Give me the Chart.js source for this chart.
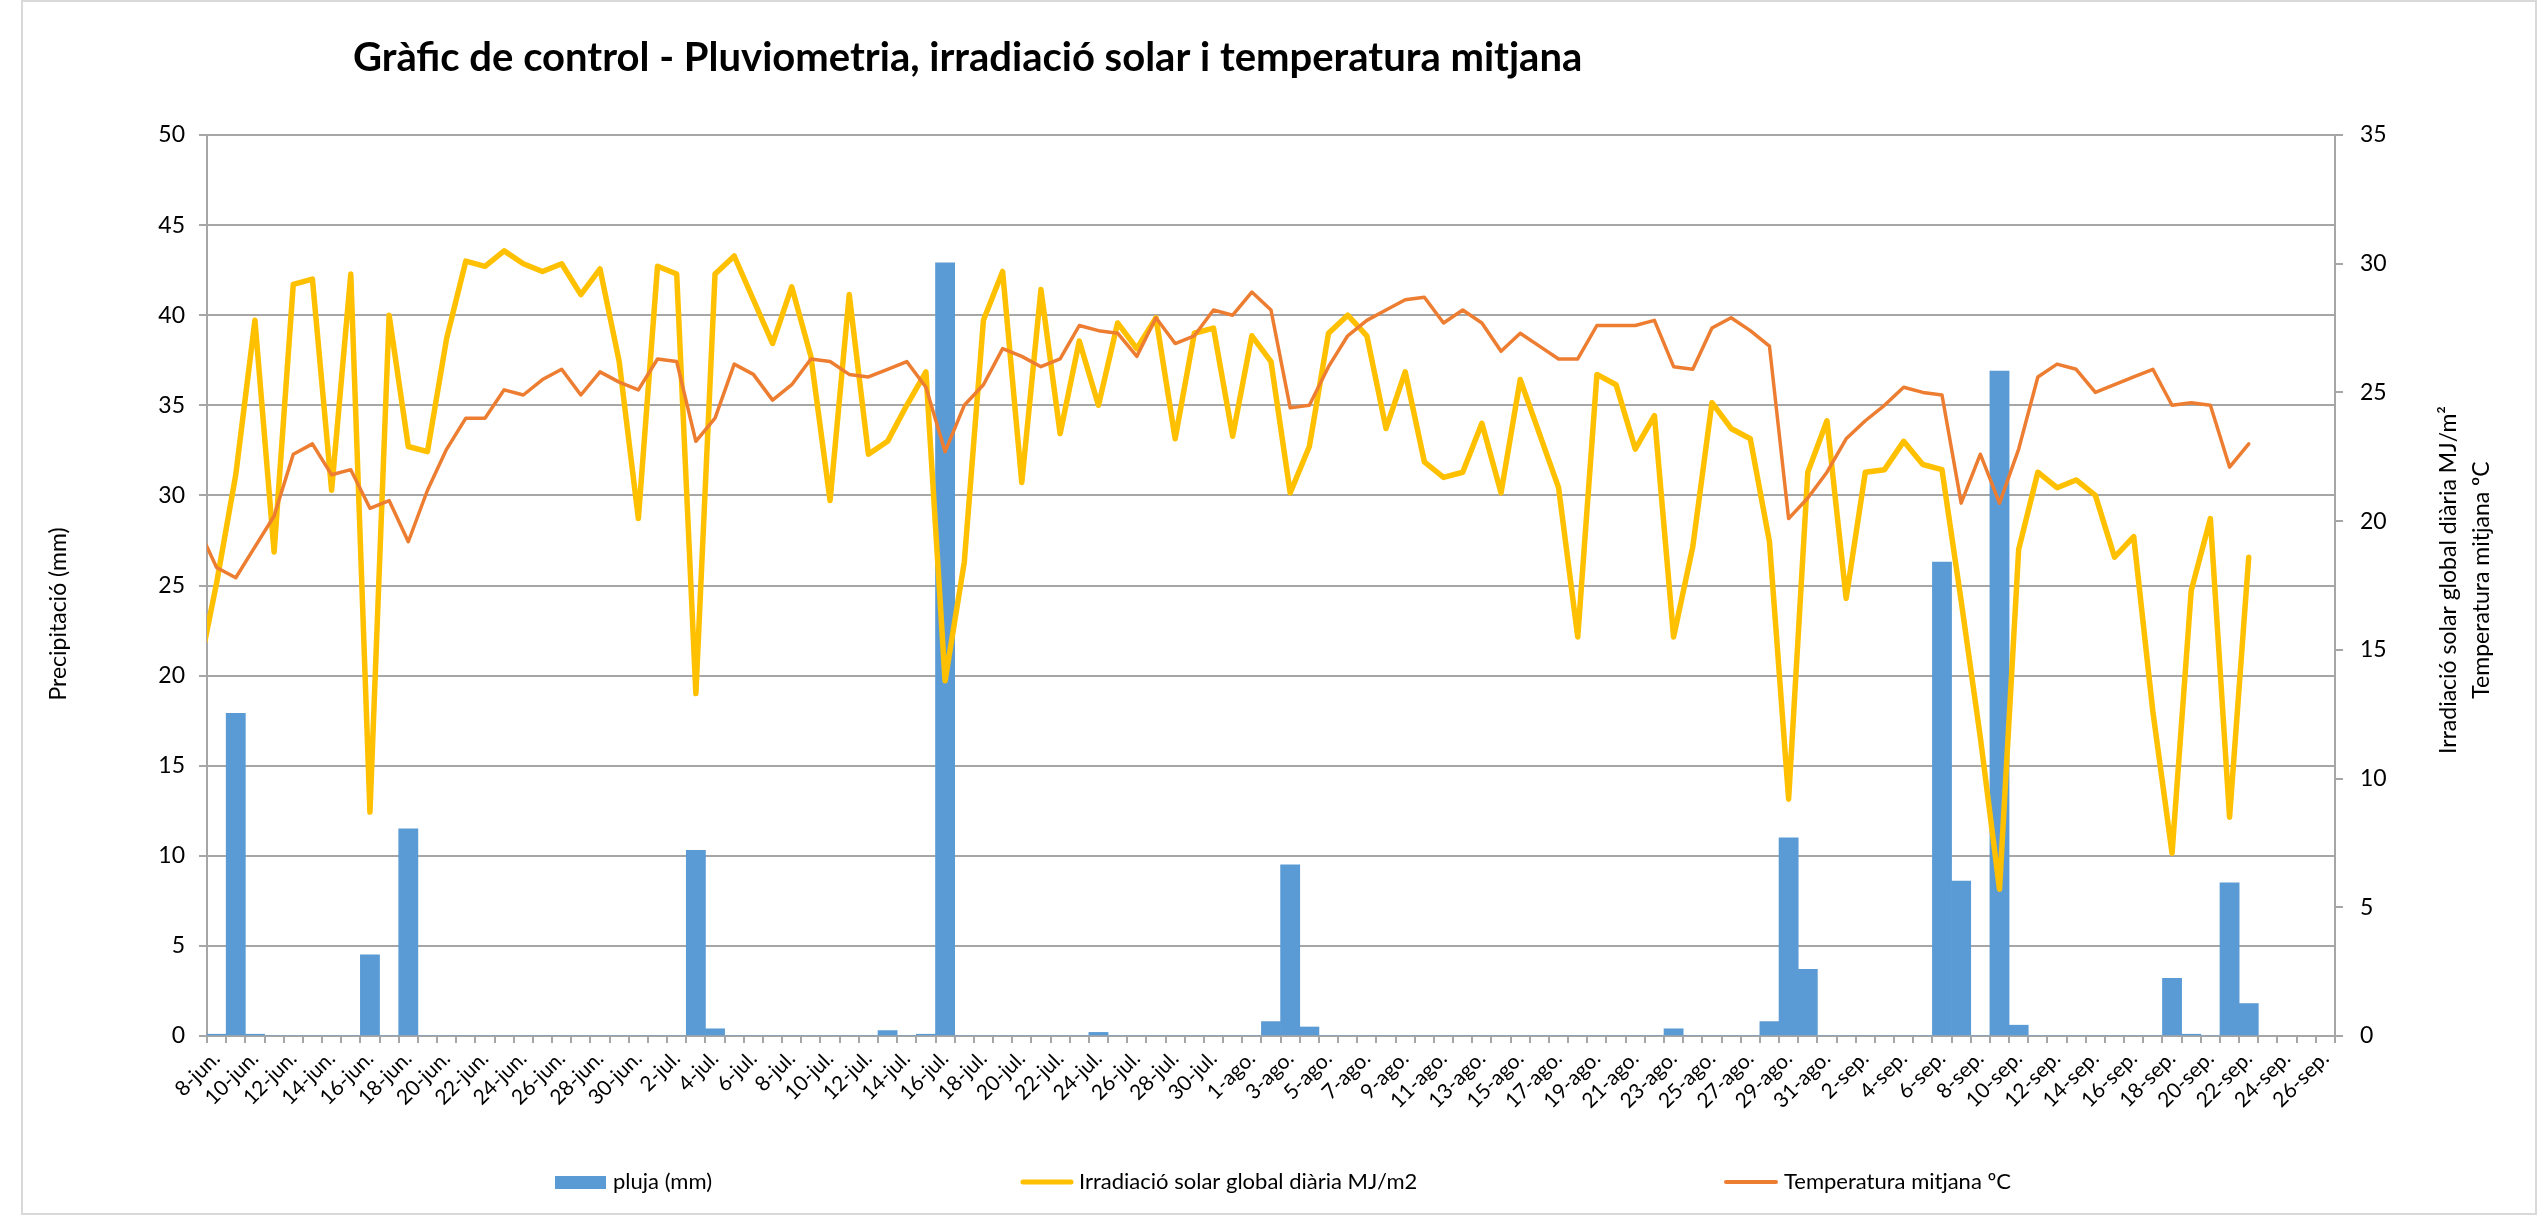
<!DOCTYPE html>
<html>
<head>
<meta charset="utf-8">
<title>Gràfic de control</title>
<script src="https://cdn.jsdelivr.net/npm/chart.js@4.4.1/dist/chart.umd.min.js"></script>
<style>
  html, body { margin: 0; padding: 0; background: #fff; }
  canvas { display: block; }
</style>
</head>
<body>
<canvas id="grafic" width="2538" height="1222"></canvas>
<script>
/* dies: 7-jun (nomes per la linia tallada a l'esquerra) fins 26-sep */
const mesos = [['jun', 7, 30], ['jul', 1, 31], ['ago', 1, 31], ['sep', 1, 26]];
const dies = [];
mesos.forEach(([m, d0, d1]) => { for (let d = d0; d <= d1; d++) dies.push(d + '-' + m + '.'); });

/* pluja (mm), eix esquerre */
const pluja = [null,
  // juny 8..30
  0.1, 17.9, 0.1, 0, 0, 0, 0, 0, 4.5, 0, 11.5, 0, 0, 0, 0, 0, 0, 0, 0, 0, 0, 0, 0,
  // juliol 1..31
  0, 0, 10.3, 0.4, 0, 0, 0, 0, 0, 0, 0, 0, 0.3, 0, 0.1, 42.9,
  0, 0, 0, 0, 0, 0, 0, 0.2, 0, 0, 0, 0, 0, 0, 0,
  // agost 1..31
  0, 0.8, 9.5, 0.5, 0, 0, 0, 0, 0, 0, 0, 0, 0, 0, 0, 0, 0, 0, 0, 0, 0, 0,
  0.4, 0, 0, 0, 0, 0.8, 11.0, 3.7, 0,
  // setembre 1..26
  0, 0, 0, 0, 0, 26.3, 8.6, 0, 36.9, 0.6, 0, 0, 0, 0, 0, 0, 0,
  3.2, 0.1, 0, 8.5, 1.8, null, null, null, null];

/* irradiacio solar global diaria MJ/m2, eix dret */
const irradiacio = [13.9,
  17.6, 21.8, 27.8, 18.8, 29.2, 29.4, 21.2, 29.6, 8.7, 28.0, 22.9, 22.7, 27.1, 30.1, 29.9,
  30.5, 30.0, 29.7, 30.0, 28.8, 29.8, 26.2, 20.1, 29.9, 29.6, 13.3, 29.6, 30.3, 28.6, 26.9,
  29.1, 26.4, 20.8, 28.8, 22.6, 23.1, 24.5, 25.8, 13.8, 18.4, 27.8, 29.7, 21.5, 29.0, 23.4,
  27.0, 24.5, 27.7, 26.7, 27.9, 23.2, 27.3, 27.5, 23.3, 27.2, 26.2, 21.1, 22.9, 27.3, 28.0,
  27.2, 23.6, 25.8, 22.3, 21.7, 21.9, 23.8, 21.1, 25.5, 23.4, 21.3, 15.5, 25.7, 25.3, 22.8,
  24.1, 15.5, 19.0, 24.6, 23.6, 23.2, 19.2, 9.2, 21.9, 23.9, 17.0, 21.9, 22.0, 23.1, 22.2,
  22.0, 16.9, 11.6, 5.7, 18.9, 21.9, 21.3, 21.6, 21.0, 18.6, 19.4, 12.6, 7.1, 17.3, 20.1,
  8.5, 18.6, null, null, null, null];

/* temperatura mitjana ºC, eix dret */
const temperatura = [19.8,
  18.2, 17.8, 19.0, 20.2, 22.6, 23.0, 21.8, 22.0, 20.5, 20.8, 19.2, 21.2, 22.8, 24.0, 24.0,
  25.1, 24.9, 25.5, 25.9, 24.9, 25.8, 25.4, 25.1, 26.3, 26.2, 23.1, 24.0, 26.1, 25.7, 24.7,
  25.3, 26.3, 26.2, 25.7, 25.6, 25.9, 26.2, 25.2, 22.7, 24.5, 25.3, 26.7, 26.4, 26.0, 26.3,
  27.6, 27.4, 27.3, 26.4, 27.9, 26.9, 27.2, 28.2, 28.0, 28.9, 28.2, 24.4, 24.5, 26.0, 27.2,
  27.8, 28.2, 28.6, 28.7, 27.7, 28.2, 27.7, 26.6, 27.3, 26.8, 26.3, 26.3, 27.6, 27.6, 27.6,
  27.8, 26.0, 25.9, 27.5, 27.9, 27.4, 26.8, 20.1, 20.9, 21.9, 23.2, 23.9, 24.5, 25.2, 25.0,
  24.9, 20.7, 22.6, 20.7, 22.8, 25.6, 26.1, 25.9, 25.0, 25.3, 25.6, 25.9, 24.5, 24.6, 24.5,
  22.1, 23.0, null, null, null, null];

const titol = 'Gràfic de control - Pluviometria, irradiació solar i temperatura mitjana';
const titolEsq = 'Precipitació (mm)';
const titolDret = ['Irradiació solar global diària MJ/m²', 'Temperatura mitjana ºC'];
const llegenda = ['pluja (mm)', 'Irradiació solar global diària MJ/m2', 'Temperatura mitjana ºC'];

const lletra = 'Lato, "Open Sans", sans-serif';
const gris = '#a6a6a6';

/* titols, llegenda i vora dibuixats a ma */
const textos = {
  id: 'textos',
  afterDraw(chart) {
    const ctx = chart.ctx;
    ctx.save();
    ctx.strokeStyle = '#d9d9d9';
    ctx.lineWidth = 2;
    ctx.strokeRect(22, 1, 2514, 1213);

    ctx.fillStyle = '#000';
    ctx.textAlign = 'left';
    ctx.textBaseline = 'alphabetic';
    ctx.font = 'bold 34px ' + lletra;
    const mida = 34 * 1229 / ctx.measureText(titol).width;
    ctx.font = 'bold ' + mida.toFixed(1) + 'px ' + lletra;
    ctx.fillText(titol, 353, 71);

    ctx.font = '23px ' + lletra;
    ctx.textAlign = 'center';
    ctx.textBaseline = 'middle';
    ctx.save();
    ctx.translate(59, 614);
    ctx.rotate(-Math.PI / 2);
    ctx.fillText(titolEsq, 0, 0);
    ctx.restore();
    [2449, 2482].forEach((x, i) => {
      ctx.save();
      ctx.translate(x, 580);
      ctx.rotate(-Math.PI / 2);
      ctx.fillText(titolDret[i], 0, 0);
      ctx.restore();
    });

    // llegenda
    ctx.font = '22px ' + lletra;
    ctx.textAlign = 'left';
    ctx.fillStyle = '#5b9bd5';
    ctx.fillRect(555, 1176, 51, 13);
    ctx.lineCap = 'round';
    ctx.strokeStyle = '#ffc000';
    ctx.lineWidth = 5;
    ctx.beginPath(); ctx.moveTo(1023, 1182); ctx.lineTo(1071, 1182); ctx.stroke();
    ctx.strokeStyle = '#ed7d31';
    ctx.lineWidth = 4;
    ctx.beginPath(); ctx.moveTo(1726, 1182); ctx.lineTo(1776, 1182); ctx.stroke();
    ctx.fillStyle = '#000';
    ctx.fillText(llegenda[0], 613, 1182);
    ctx.fillText(llegenda[1], 1079, 1182);
    ctx.fillText(llegenda[2], 1784, 1182);
    ctx.restore();
  }
};

new Chart(document.getElementById('grafic'), {
  type: 'bar',
  data: {
    labels: dies,
    datasets: [
      {
        type: 'line', label: llegenda[2], data: temperatura, yAxisID: 'y1',
        borderColor: '#ed7d31', borderWidth: 3.5, pointRadius: 0, tension: 0,
        borderJoinStyle: 'round', borderCapStyle: 'round', order: 0
      },
      {
        type: 'line', label: llegenda[1], data: irradiacio, yAxisID: 'y1',
        borderColor: '#ffc000', borderWidth: 5.5, pointRadius: 0, tension: 0,
        borderJoinStyle: 'round', borderCapStyle: 'round', order: 1
      },
      {
        type: 'bar', label: llegenda[0], data: pluja, yAxisID: 'y',
        backgroundColor: '#5b9bd5', barPercentage: 1, categoryPercentage: 1, order: 2
      }
    ]
  },
  options: {
    responsive: false,
    animation: false,
    devicePixelRatio: 1,
    layout: { padding: { top: 135, left: 0, right: 0, bottom: 0 } },
    plugins: { legend: { display: false }, tooltip: { enabled: false }, title: { display: false } },
    scales: {
      x: {
        type: 'category',
        min: '8-jun.',
        offset: true,
        grid: { offset: true, drawOnChartArea: false, drawTicks: true, tickLength: 7, color: gris, lineWidth: 2 },
        border: { display: true, color: gris, width: 2 },
        ticks: {
          autoSkip: false, minRotation: 45, maxRotation: 45, padding: 3, color: '#000',
          font: { family: lletra, size: 21 },
          callback(v) { return (v - 1) % 2 === 0 ? this.getLabelForValue(v) : ''; }
        },
        afterFit(s) { s.height = 186; }
      },
      y: {
        position: 'left', min: 0, max: 50,
        ticks: { stepSize: 5, padding: 14, color: '#000', font: { family: lletra, size: 23 } },
        grid: { color: gris, lineWidth: 2, tickLength: 8 },
        border: { display: true, color: gris, width: 2 },
        afterFit(s) { s.width = 207; }
      },
      y1: {
        position: 'right', min: 0, max: 35,
        ticks: { stepSize: 5, padding: 17, color: '#000', font: { family: lletra, size: 23 } },
        grid: { drawOnChartArea: false, color: gris, lineWidth: 2, tickLength: 8 },
        border: { display: true, color: gris, width: 2 },
        afterFit(s) { s.width = 203; }
      }
    }
  },
  plugins: [textos]
});
</script>
</body>
</html>
